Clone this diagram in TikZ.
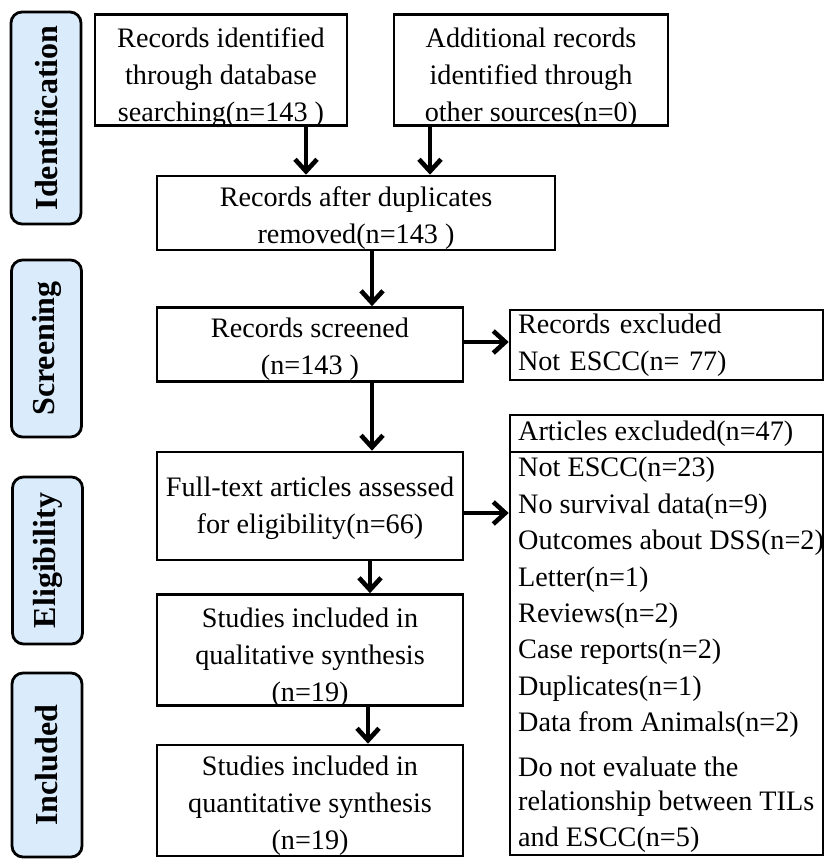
\documentclass[tikz,border=0pt]{standalone}
\usepackage{fontspec}
\setmainfont{Liberation Serif}
\usetikzlibrary{arrows.meta}
\definecolor{sidefill}{RGB}{218,235,252}
\newcommand\lowtext[2][5pt]{\raisebox{-#1}[\height][\depth]{\begin{tabular}{@{}c@{}}#2\end{tabular}}}
\tikzset{
  mainbox/.style={draw, line width=2.6pt, inner sep=0pt, align=center,
    font=\fontsize{28.2}{37}\selectfont},
  sidebox/.style={draw, line width=2.8pt, rounded corners=11pt, fill=sidefill,
    rotate=90, inner sep=0pt, minimum height=70pt,
    font=\fontsize{32}{36}\selectfont\bfseries},
  listtext/.style={inner sep=0pt, anchor=west, font=\fontsize{28.2}{37}\selectfont},
  arr/.style={line width=4.6pt, -{Straight Barb[length=12pt,width=22pt]}}
}
\begin{document}
\begin{tikzpicture}[x=1pt,y=-1pt]
\useasboundingbox (0,0) rectangle (829,864);
% side labels
\node[sidebox, minimum width=212pt] (sid) at (46,118) {Identification};
\node[sidebox, minimum width=177pt] (ssc) at (46.5,348.5) {Screening};
\node[sidebox, minimum width=167pt] (sel) at (47.5,560.5) {Eligibility};
\node[sidebox, minimum width=184pt] (sin) at (47,765) {Included};
% main boxes
\node[mainbox, minimum width=252pt, minimum height=110pt] (b1) at (221,70)
  {\lowtext[7.5pt]{Records identified\\through database\\searching(n=143 )}};
\node[mainbox, minimum width=274pt, minimum height=110pt] (b2) at (531,70)
  {\lowtext[7.5pt]{Additional records\\identified through\\other sources(n=0)}};
\node[mainbox, minimum width=398pt, minimum height=70pt] (b3) at (356,213)
  {\lowtext[4.5pt]{Records after duplicates\\removed(n=143 )}};
\node[mainbox, minimum width=306pt, minimum height=69pt] (b4) at (310,344.5)
  {\lowtext[4.5pt]{Records screened\\(n=143 )}};
\node[mainbox, minimum width=306pt, minimum height=108pt] (b5) at (310,506)
  {\lowtext[1.5pt]{Full-text articles assessed\\for eligibility(n=66)}};
\node[mainbox, minimum width=306pt, minimum height=110pt] (b6) at (310,650)
  {\lowtext[7pt]{Studies included in\\qualitative synthesis\\(n=19)}};
\node[mainbox, minimum width=306pt, minimum height=109pt] (b7) at (310,800.5)
  {\lowtext[4.5pt]{Studies included in\\quantitative synthesis\\(n=19)}};
% exclusion boxes
\node[mainbox, minimum width=313pt, minimum height=70pt, text width=297pt, align=left] (rex) at (666.5,345)
  {Records excluded\\Not ESCC(n= 77)};
\node[mainbox, minimum width=313pt, minimum height=440pt] (aex) at (666.5,635) {};
\coordinate (hl) at (0,452);
\draw[line width=2.6pt] (aex.west |- hl) -- (aex.east |- hl);
\node[listtext] (ah) at (518,434) {Articles excluded(n=47)};
\foreach \t/\y [count=\i] in {Not ESCC(n=23)/470, No survival data(n=9)/506.5,
  Outcomes about DSS(n=2)/543, Letter(n=1)/579.5, Reviews(n=2)/615.5,
  Case reports(n=2)/652, Duplicates(n=1)/688.5, Data from Animals(n=2)/725,
  Do not evaluate the/767, relationship between TILs/803.5, and ESCC(n=5)/840}
  \node[listtext] (it\i) at (518,\y) {\t};
% arrows
\coordinate (xa) at (306,0);
\coordinate (xb) at (430,0);
\coordinate (xc) at (372,0);
\coordinate (xd) at (370,0);
\coordinate (xe) at (368,0);
\coordinate (ya) at (0,342);
\coordinate (yb) at (0,513);
\draw[arr] (b1.south -| xa) -- (b3.north -| xa);
\draw[arr] (b2.south -| xb) -- (b3.north -| xb);
\draw[arr] (b3.south -| xc) -- (b4.north -| xc);
\draw[arr] (b4.south -| xc) -- (b5.north -| xc);
\draw[arr] (b5.south -| xd) -- (b6.north -| xd);
\draw[arr] (b6.south -| xe) -- (b7.north -| xe);
\draw[arr] (b4.east |- ya) -- (rex.west |- ya);
\draw[arr] (b5.east |- yb) -- (aex.west |- yb);
\end{tikzpicture}
\end{document}
